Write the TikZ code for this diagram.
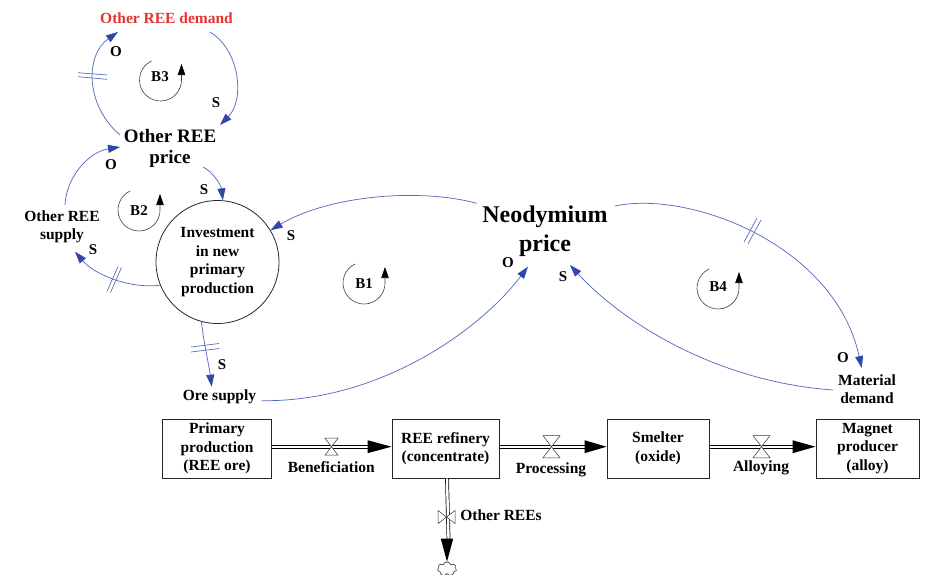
\documentclass[tikz,border=0pt]{standalone}
\usepackage{fontspec}
\setmainfont{Liberation Serif}
\usetikzlibrary{arrows.meta,shapes.symbols,calc}
\definecolor{linkblue}{RGB}{88,108,188}
\definecolor{headblue}{RGB}{48,72,165}
\definecolor{demred}{RGB}{226,52,48}
\begin{document}
\begin{tikzpicture}[x=1pt,y=1pt,
 lbl/.style={font=\fontsize{15.5}{18.5}\selectfont\bfseries, align=center, inner sep=1pt},
 bigl/.style={font=\fontsize{19}{21}\selectfont\bfseries, align=center, inner sep=1pt},
 hugel/.style={font=\fontsize{24}{29}\selectfont\bfseries, align=center, inner sep=1pt},
 pol/.style={font=\fontsize{15}{15}\selectfont\bfseries, inner sep=0pt},
 link/.style={draw=linkblue, line width=0.75pt, -{Triangle[length=12pt,width=8pt,color=headblue]}},
 delay/.style={draw=linkblue, line width=0.7pt},
 stockbox/.style={draw=black!85, line width=1pt, lbl, minimum height=59pt, inner sep=2pt},
 pipe/.style={draw=black, line width=0.7pt, double=white, double distance=2.4pt},
 valve/.pic={\draw[fill=white, line width=0.5pt, draw=black!80] (-6.5,8.5) -- (6.5,8.5) -- (-6.5,-8.5) -- (6.5,-8.5) -- cycle;},
 loopsym/.pic={\draw[draw=black!75, line width=0.6pt, -{Triangle[length=11pt,width=7.5pt,color=black]}] (115:21) arc[start angle=115, end angle=360, radius=21] -- ++(0,16);},
]
\useasboundingbox (0,0) rectangle (926,-574);

% auxiliary variables
\node[lbl, text=demred] (dem) at (166.5,-18.5) {Other REE demand};
\node[bigl] (orp) at (170,-148) {Other REE\\price};
\node[lbl] (ors) at (62,-227) {Other REE\\supply};
\node[draw=black!85, line width=0.8pt, circle, minimum size=123pt, inner sep=0pt, lbl] (inv) at (217.5,-262) {Investment\\in new\\primary\\production};
\node[lbl] (ore) at (219.5,-397) {Ore supply};
\node[hugel] (neo) at (545,-231) {Neodymium\\price};
\node[lbl] (mat) at (867,-389) {Material\\demand};

% loop symbols
\pic at (160.5,-80) {loopsym};
\node[pol] (b3) at (160,-77) {B3};
\pic at (139,-210) {loopsym};
\node[pol] (b2) at (139,-211) {B2};
\pic at (364,-283) {loopsym};
\node[pol] (b1) at (364,-284) {B1};
\pic at (718,-288) {loopsym};
\node[pol] (b4) at (718,-287) {B4};

% causal links
\draw[link] ([shift={(-50,13)}]orp.center) .. controls (85,-105) and (85,-55) .. ([shift={(-48.5,-13.5)}]dem.center);
\draw[link] ([shift={(43.5,-13.5)}]dem.center) .. controls (240,-50) and (245,-100) .. ([shift={(50,23)}]orp.center);
\draw[link] ([shift={(33,-19)}]orp.center) .. controls (213,-172) and (221,-185) .. (inv.85);
\draw[link] ([shift={(3,22)}]ors.center) .. controls (66,-178) and (88,-152) .. ([shift={(-50,1)}]orp.center);
\draw[link] (inv.202) .. controls (130,-289) and (95,-275) .. ([shift={(13,-24.7)}]ors.center);
\draw[link] (inv.255) .. controls (204,-345) and (209,-365) .. ([shift={(-7.8,10.3)}]ore.center);
\draw[link] ([shift={(42.2,-3.7)}]ore.center) .. controls (380,-402) and (480,-330) .. ([shift={(-17,-35.7)}]neo.center);
\draw[link] ([shift={(-68.3,27.7)}]neo.center) .. controls (420,-188) and (330,-195) .. (inv.31);
\draw[link] ([shift={(70,25)}]neo.center) .. controls (690,-190) and (835,-245) .. ([shift={(-5.3,21)}]mat.center);
\draw[link] ([shift={(-34,-1)}]mat.center) .. controls (720,-382) and (625,-325) .. ([shift={(25,-34)}]neo.center);

% delay marks
\draw[delay] (78,-72.7) -- (107,-75) (78,-76.7) -- (107,-79.3);
\draw[delay] (118,-266.5) -- (107,-291.5) (121.5,-267.5) -- (110.5,-292.5);
\draw[delay] (191,-347) -- (219,-343.5) (191,-352) -- (219,-348.5);
\draw[delay] (757,-218) -- (744,-242) (761,-220) -- (748,-244);

% polarity labels
\node[pol] (p1) at (116,-52) {O};
\node[pol] (p2) at (216,-103) {S};
\node[pol] (p3) at (204,-190) {S};
\node[pol] (p4) at (111,-165) {O};
\node[pol] (p5) at (93,-250) {S};
\node[pol] (p6) at (222,-365) {S};
\node[pol] (p7) at (508,-263) {O};
\node[pol] (p8) at (291,-236) {S};
\node[pol] (p9) at (843,-358) {O};
\node[pol] (p10) at (563,-277) {S};

% stocks
\node[stockbox, minimum width=109pt] (pp) at (217,-448.5) {Primary\\production\\(REE ore)};
\node[stockbox, minimum width=107pt] (ref) at (445.5,-448.5) {REE refinery\\(concentrate)};
\node[stockbox, minimum width=102pt] (sm) at (658,-448.5) {Smelter\\(oxide)};
\node[stockbox, minimum width=103pt] (mag) at (867.5,-448.5) {Magnet\\producer\\(alloy)};
\node[cloud, draw=black!80, cloud puffs=7, minimum width=19pt, minimum height=14pt, inner sep=0pt, line width=0.6pt] (cl) at (447,-569) {};

% flows
\draw[pipe] ([yshift=1.8pt]pp.east) -- ([xshift=-23pt,yshift=1.8pt]ref.west);
\fill ([yshift=1.8pt]ref.west) -- ++(-24,6.5) -- ++(0,-13) -- cycle;
\draw[pipe] ([yshift=1.8pt]ref.east) -- ([xshift=-21pt,yshift=1.8pt]sm.west);
\fill ([yshift=1.8pt]sm.west) -- ++(-22,6.5) -- ++(0,-13) -- cycle;
\draw[pipe] ([yshift=1.8pt]sm.east) -- ([xshift=-22pt,yshift=1.8pt]mag.west);
\fill ([yshift=1.8pt]mag.west) -- ++(-23,6.5) -- ++(0,-13) -- cycle;
\draw[pipe] ([xshift=1.5pt]ref.south) -- ([xshift=1.5pt,yshift=23pt]cl.north);
\fill (cl.north) -- ++(-6.2,23) -- ++(12.4,0) -- cycle;

\pic at (331.5,-446.7) {valve};
\pic[scale=1.3] at (551.5,-446.7) {valve};
\pic[scale=1.3] at (761.5,-446.7) {valve};
\pic[rotate=90] at (446.5,-517) {valve};

\node[lbl] (fb) at (331.3,-467) {Beneficiation};
\node[lbl] (fp) at (551,-470) {Processing};
\node[lbl] (fa) at (761,-468) {Alloying};
\node[lbl] (fo) at (501,-515.5) {Other REEs};
\end{tikzpicture}
\end{document}
